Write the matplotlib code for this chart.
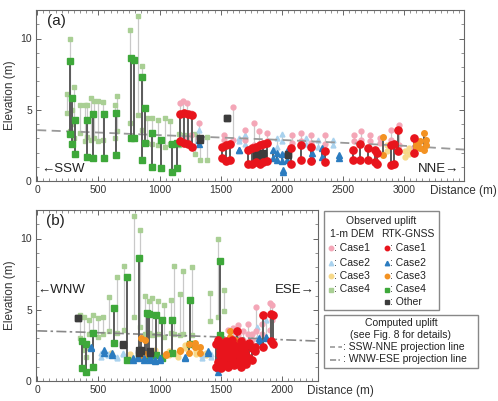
import numpy as np
import matplotlib.pyplot as plt
from matplotlib.patches import Rectangle
from matplotlib.ticker import MultipleLocator

plt.rcParams['font.family'] = ['Liberation Sans', 'DejaVu Sans']

# data: (distance m, lower elevation m, upper elevation m)
# ---- panel (a) SSW-NNE ----
A_DEM1 = [(1170, 2.9, 5.5), (1195, 3.0, 5.6), (1225, 2.9, 5.5), (1255, 3.2, 4.8), (1320, 3.0, 4.1),
          (1530, 2.9, 3.2), (1605, 2.9, 5.2), (1700, 2.9, 3.6), (1770, 2.5, 4.1), (1810, 2.6, 3.5),
          (1880, 2.8, 3.4), (2080, 2.7, 3.2), (2160, 2.8, 3.4), (2240, 2.7, 3.2), (2350, 2.6, 3.2),
          (2590, 2.8, 3.2), (2650, 2.9, 3.5), (2720, 2.8, 3.2), (2800, 2.7, 3.0), (2890, 2.9, 3.6),
          (2960, 2.5, 3.9), (3080, 2.4, 3.0)]
A_RTK1 = [(1170, 2.8, 4.7), (1200, 2.7, 4.8), (1230, 2.6, 4.7), (1265, 2.4, 4.6),
          (1510, 1.6, 2.4), (1545, 1.4, 2.5), (1575, 1.5, 2.6),
          (1725, 1.2, 2.2), (1755, 1.2, 2.3), (1790, 1.3, 2.4), (1820, 1.2, 2.5), (1850, 1.3, 2.6),
          (1880, 1.4, 2.7), (2075, 1.2, 2.3), (2160, 1.5, 2.5), (2240, 1.4, 2.4), (2350, 1.3, 2.1),
          (2580, 1.5, 2.2), (2640, 1.5, 2.6), (2705, 1.5, 2.3), (2760, 1.3, 2.2), (2780, 1.2, 2.0),
          (2895, 1.1, 2.5), (2920, 1.2, 2.6), (2950, 2.1, 3.6), (3080, 2.0, 3.0)]
A_DEM2 = [(1320, 2.9, 3.6), (1650, 2.8, 3.0), (1700, 2.6, 3.2), (1960, 2.4, 3.0), (2000, 2.8, 3.3),
          (2200, 2.6, 3.0), (2300, 2.4, 2.9), (2420, 2.5, 2.9)]
A_RTK2 = [(1320, 2.6, 2.9), (1650, 2.2, 2.2), (1930, 1.6, 2.2), (1960, 1.5, 2.0), (2000, 1.4, 1.9),
          (2040, 1.5, 2.1), (2010, 0.6, 0.8), (2250, 1.6, 2.0), (2330, 1.7, 2.3), (2470, 1.6, 1.8)]
A_DEM3 = [(3010, 1.7, 2.1), (3040, 1.9, 2.3), (2860, 2.1, 2.5)]
A_RTK3 = [(2830, 1.8, 3.1), (3160, 2.2, 3.4), (3130, 2.3, 2.8), (3180, 2.5, 2.9), (3100, 2.4, 2.6)]
A_DEM4 = [(245, 4.8, 6.1), (268, 3.5, 10.0), (282, 4.0, 5.0), (297, 3.0, 6.6), (352, 3.4, 5.3),
          (392, 2.8, 5.3), (405, 3.1, 5.3), (438, 2.9, 5.8), (461, 3.05, 5.6), (500, 2.8, 5.6),
          (540, 2.9, 5.55), (637, 3.05, 5.3), (656, 3.5, 6.0), (759, 4.1, 10.6), (827, 4.6, 11.6),
          (855, 3.6, 8.1), (895, 2.7, 4.4), (940, 2.6, 4.4), (990, 2.5, 4.3), (1045, 2.4, 4.4),
          (1085, 2.6, 4.2), (1160, 2.5, 3.3), (1200, 2.8, 3.2), (1290, 1.9, 3.3), (1330, 1.5, 2.9),
          (1385, 1.5, 3.1)]
A_RTK4 = [(270, 3.3, 8.4), (282, 2.6, 5.8), (305, 1.9, 4.3), (410, 1.7, 4.3), (455, 1.6, 4.7),
          (550, 1.6, 4.7), (645, 1.8, 4.8), (770, 3.0, 8.6), (790, 3.0, 8.5), (860, 1.5, 7.3),
          (880, 2.7, 5.1), (935, 1.0, 3.4), (1015, 0.9, 2.9), (1100, 0.6, 2.6), (1140, 0.9, 2.7)]
A_OTH = [(1550, 4.4, 4.4), (1790, 1.6, 1.9), (1820, 1.7, 2.0), (1850, 1.8, 2.0), (2050, 1.8, 1.9),
         (1330, 2.9, 3.0)]

# ---- panel (b) WNW-ESE ----
B_DEM1 = [(1560, 2.8, 3.6), (1600, 3.0, 3.7), (1640, 3.2, 3.9), (1680, 2.9, 3.5), (1720, 3.3, 4.0),
          (1760, 2.9, 3.3), (1790, 3.5, 5.2), (1840, 3.3, 4.0), (1900, 3.6, 5.5), (1920, 4.3, 5.3)]
B_RTK1 = [(1460, 1.0, 2.6), (1480, 1.3, 2.9), (1500, 0.9, 2.5), (1515, 1.4, 2.7), (1530, 1.1, 2.4),
          (1545, 1.6, 2.8), (1560, 1.0, 2.6), (1575, 1.2, 2.3), (1590, 1.5, 2.9), (1610, 1.1, 2.5),
          (1630, 1.3, 3.5), (1650, 1.2, 2.4), (1670, 1.0, 2.8), (1690, 1.4, 2.2), (1710, 1.2, 2.5),
          (1730, 1.6, 2.7), (1760, 1.5, 2.3), (1780, 2.1, 2.4), (1850, 2.4, 4.6), (1910, 2.8, 4.7),
          (1925, 2.6, 4.6), (1495, 1.8, 2.1), (1535, 1.9, 2.2), (1585, 1.7, 2.0), (1620, 1.9, 2.1),
          (1660, 1.6, 1.9), (1700, 1.8, 2.0)]
B_DEM2 = [(520, 1.7, 2.0), (580, 1.8, 1.9), (650, 1.6, 1.7), (700, 1.9, 2.0), (1350, 1.6, 1.8),
          (1420, 1.7, 1.9), (1800, 3.0, 3.8), (1870, 3.1, 4.3)]
B_RTK2 = [(440, 2.3, 2.4), (550, 2.0, 2.2), (610, 1.8, 2.0), (780, 1.5, 1.6), (820, 1.6, 1.7),
          (870, 1.5, 1.6), (920, 1.5, 1.7), (960, 1.4, 1.5), (1000, 1.5, 1.6), (1210, 1.6, 1.7),
          (1400, 2.0, 2.1), (1475, 0.6, 0.9), (1810, 2.8, 3.0), (1870, 3.0, 3.1)]
B_DEM3 = [(600, 1.8, 2.0), (760, 1.7, 1.9), (960, 1.9, 2.2), (1080, 1.8, 2.1), (1150, 1.7, 2.0),
          (1210, 2.3, 2.5), (1300, 1.9, 2.1), (1380, 1.8, 2.0)]
B_RTK3 = [(850, 1.8, 3.0), (880, 1.9, 2.9), (1050, 1.8, 1.9), (1170, 2.1, 2.2), (1245, 2.0, 2.6),
          (1290, 2.4, 2.7), (1330, 2.0, 2.4), (1575, 3.1, 3.5), (1620, 2.8, 2.9)]
B_DEM4 = [(350, 3.0, 4.6), (380, 2.2, 4.5), (400, 1.7, 2.3), (420, 3.3, 4.3), (460, 3.4, 4.6),
          (500, 3.1, 4.4), (540, 3.3, 4.5), (585, 3.5, 5.9), (650, 3.4, 7.3), (710, 3.6, 8.1),
          (790, 4.5, 11.6), (840, 3.8, 10.6), (880, 3.3, 6.0), (910, 3.4, 5.6), (940, 3.2, 5.8),
          (990, 3.3, 5.6), (1040, 3.1, 5.3), (1090, 3.4, 5.7), (1120, 3.3, 8.1), (1170, 3.2, 6.1),
          (1195, 3.3, 7.7), (1265, 3.2, 8.0), (1410, 4.2, 6.2), (1480, 4.5, 10.0), (1525, 4.9, 6.4)]
B_RTK4 = [(365, 0.9, 2.8), (400, 0.6, 2.6), (460, 1.0, 3.4), (630, 2.7, 5.1), (735, 1.5, 7.3),
          (835, 1.8, 8.6), (895, 1.6, 4.8), (910, 1.7, 4.7), (975, 1.8, 4.6), (1020, 1.6, 4.3),
          (1100, 2.0, 4.3), (1250, 2.6, 5.7), (1495, 3.2, 8.4)]
B_OTH = [(330, 4.4, 4.4), (700, 2.5, 2.6), (830, 2.0, 2.2), (850, 2.1, 2.2), (920, 2.0, 2.1)]

# computed uplift (projection lines)
SSW_D = [0, 500, 1000, 1500, 2000, 2500, 3000, 3500]
SSW_E = [3.57, 3.4, 3.22, 3.05, 2.88, 2.68, 2.47, 2.2]
WNW_D = [0, 400, 800, 1200, 1600, 2000, 2300]
WNW_E = [3.52, 3.42, 3.3, 3.18, 3.06, 2.9, 2.8]

c_dem = {'1': '#f4a6b7', '2': '#a9d2ee', '3': '#f7d98a', '4': '#a9cf94'}
c_rtk = {'1': '#e8141c', '2': '#2b7cc0', '3': '#f39222', '4': '#3ea83a', 'o': '#3c3c3c'}
mk = {'1': 'o', '2': '^', '3': 'o', '4': 's', 'o': 's'}


def draw(ax, segs, col, marker, ms, lcol, lw, z):
    d = [s[0] for s in segs]
    lo = [s[1] for s in segs]
    hi = [s[2] for s in segs]
    ax.vlines(d, lo, hi, colors=lcol, lw=lw, zorder=z)
    ax.plot(d, lo, ls='none', marker=marker, ms=ms, color=col, mec=col, zorder=z + 0.5)
    ax.plot(d, hi, ls='none', marker=marker, ms=ms, color=col, mec=col, zorder=z + 0.5)


def style(ax, xmax):
    ax.set_xlim(-10, xmax)
    ax.set_ylim(0, 12)
    ax.xaxis.set_major_locator(MultipleLocator(500))
    ax.xaxis.set_minor_locator(MultipleLocator(50))
    ax.yaxis.set_major_locator(MultipleLocator(5))
    ax.yaxis.set_minor_locator(MultipleLocator(1))
    ax.tick_params(which='both', direction='in', top=True, right=True, colors='#666666',
                   labelcolor='#333333', labelsize=7.5, pad=3)
    ax.tick_params(which='major', length=3.5, width=0.7)
    ax.tick_params(which='minor', length=2, width=0.5)
    for s in ax.spines.values():
        s.set_color('#666666')
        s.set_linewidth(0.8)
    ax.set_ylabel('Elevation (m)', fontsize=8.5, color='#333333', labelpad=3)


fig = plt.figure(figsize=(4.98, 4.01), dpi=100)
ax_a = fig.add_axes([36 / 498, 1 - 181 / 401, 428 / 498, 171 / 401])
ax_b = fig.add_axes([36 / 498, 1 - 381 / 401, 282 / 498, 171 / 401])

panels = [
    (ax_a, [A_DEM1, A_DEM2, A_DEM3, A_DEM4], [A_RTK1, A_RTK2, A_RTK3, A_RTK4, A_OTH]),
    (ax_b, [B_DEM1, B_DEM2, B_DEM3, B_DEM4], [B_RTK1, B_RTK2, B_RTK3, B_RTK4, B_OTH]),
]
for ax, dems, rtks in panels:
    for key, segs in zip(['4', '3', '2', '1'], dems[::-1]):
        draw(ax, segs, c_dem[key], mk[key], 3.5, '#c9c9c9', 0.9, 2)
    for key, segs in zip(['4', '3', '2', 'o', '1'], [rtks[3], rtks[2], rtks[1], rtks[4], rtks[0]]):
        draw(ax, segs, c_rtk[key], mk[key], 5.2 if key == '1' else 4.0, '#5a5a5a', 1.4, 4)

ax_a.plot(SSW_D, SSW_E, ls=(0, (5, 3)), color='#999999', lw=1.3, zorder=3)
ax_b.plot(WNW_D, WNW_E, ls=(0, (6, 2, 1.5, 2)), color='#888888', lw=1.2, zorder=3)

style(ax_a, 3490)
style(ax_b, 2296)

ax_a.text(0.025, 0.91, '(a)', transform=ax_a.transAxes, fontsize=11, color='#222222')
ax_b.text(0.035, 0.91, '(b)', transform=ax_b.transAxes, fontsize=11, color='#222222')
ax_a.text(0.012, 0.07, '\u2190SSW', transform=ax_a.transAxes, fontsize=9.5, color='#222222', va='center')
ax_a.text(0.988, 0.07, 'NNE\u2192', transform=ax_a.transAxes, fontsize=9.5, color='#222222',
          va='center', ha='right')
ax_b.text(0.005, 0.535, '\u2190WNW', transform=ax_b.transAxes, fontsize=9.5, color='#222222', va='center')
ax_b.text(0.99, 0.535, 'ESE\u2192', transform=ax_b.transAxes, fontsize=9.5, color='#222222',
          va='center', ha='right')
fig.text(430 / 498, 1 - 191 / 401, 'Distance (m)', fontsize=8.5, color='#333333', va='center')
fig.text(307 / 498, 1 - 391 / 401, 'Distance (m)', fontsize=8.5, color='#333333', va='center')

# legend boxes drawn in pixel coordinates
lax = fig.add_axes([0, 0, 1, 1], zorder=5)
lax.set_xlim(0, 498)
lax.set_ylim(401, 0)
lax.axis('off')
lax.add_patch(Rectangle((324, 211), 115, 99, fill=False, ec='#888888', lw=1))
lax.add_patch(Rectangle((324, 315), 154, 53, fill=False, ec='#888888', lw=1))
fs = 7.5
tc = '#222222'
lax.text(381, 221, 'Observed uplift', fontsize=fs, ha='center', va='center', color=tc)
lax.text(352, 234, '1-m DEM', fontsize=fs, ha='center', va='center', color=tc)
lax.text(408, 234, 'RTK-GNSS', fontsize=fs, ha='center', va='center', color=tc)
rows_y = [248, 262.5, 276, 289.5, 302]
for i, key in enumerate(['1', '2', '3', '4']):
    lax.plot(331, rows_y[i], marker=mk[key], ms=3.2, color=c_dem[key], ls='none')
    lax.text(334, rows_y[i], ': Case' + key, fontsize=fs, va='center', color=tc)
for i, key in enumerate(['1', '2', '3', '4', 'o']):
    lax.plot(387, rows_y[i], marker=mk[key], ms=3.2, color=c_rtk[key], ls='none')
    lax.text(390.5, rows_y[i], ': Case' + key if key != 'o' else ': Other', fontsize=fs,
             va='center', color=tc)
lax.text(401, 323.5, 'Computed uplift', fontsize=fs, ha='center', va='center', color=tc)
lax.text(401, 335, '(see Fig. 8 for details)', fontsize=fs, ha='center', va='center', color=tc)
lax.plot([330, 342], [347, 347], ls=(0, (3, 2)), color='#999999', lw=1.2)
lax.text(343, 347, ': SSW-NNE projection line', fontsize=fs, va='center', color=tc)
lax.plot([330, 342], [359.5, 359.5], ls=(0, (4, 1.5, 1, 1.5)), color='#888888', lw=1.1)
lax.text(343, 359.5, ': WNW-ESE projection line', fontsize=fs, va='center', color=tc)

fig.savefig('out.png', dpi=100)
